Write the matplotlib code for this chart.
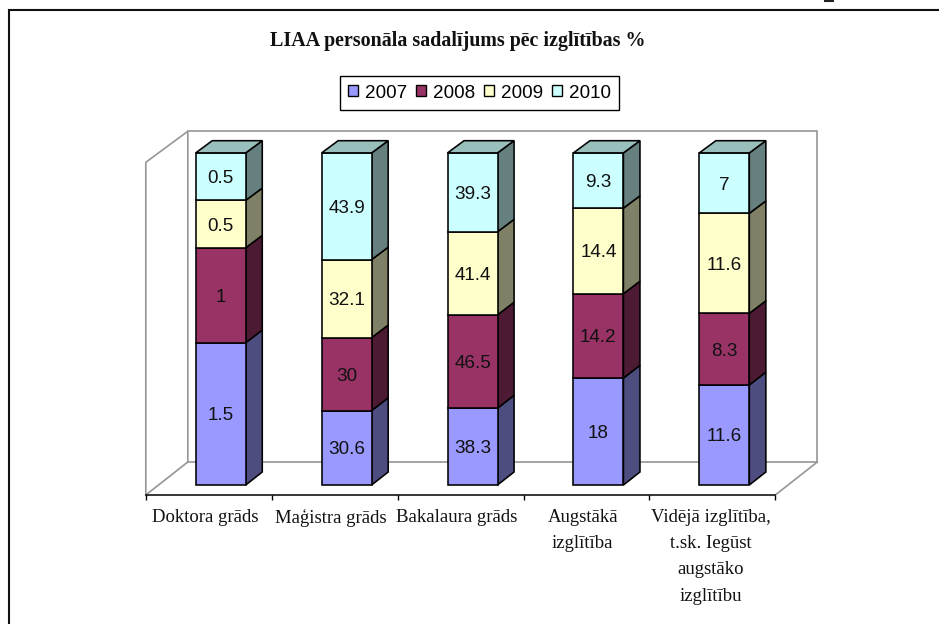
import numpy as np
import matplotlib
matplotlib.use('Agg')
import matplotlib.pyplot as plt
from matplotlib.patches import Patch, Polygon

categories = ['Doktora grāds', 'Maģistra grāds', 'Bakalaura grāds',
              'Augstākā\nizglītība', 'Vidējā izglītība,\nt.sk. Iegūst\naugstāko\nizglītību']
years = ['2007', '2008', '2009', '2010']
v2007 = [1.5, 30.6, 38.3, 18, 11.6]
v2008 = [1, 30, 46.5, 14.2, 8.3]
v2009 = [0.5, 32.1, 41.4, 14.4, 11.6]
v2010 = [0.5, 43.9, 39.3, 9.3, 7]
title = 'LIAA personāla sadalījums pēc izglītības %'

front_colors = ['#9999FF', '#993366', '#FFFFCC', '#CCFFFF']
side_colors = ['#4D4D80', '#4D1A33', '#808066', '#668080']
top_color = '#99BFBC'
wall_color = '#969696'

W, H = 939, 624
DEPTH_X = 42 / 629.5 * 5    # whole floor depth in x data units
DEPTH_Y = 33 / 332.7 * 100  # and in y data units
BAR_W = 50 / 125.9
BAR_SHIFT = -0.006
BAR_D0, BAR_D1 = 10 / 33, 23 / 33


def proj(x, y, d):
    # the back of the box is drawn a little shorter than the front
    return (x + d * DEPTH_X, y * (1 - 0.006 * d) + d * DEPTH_Y)


fig = plt.figure(figsize=(W / 100, H / 100), dpi=100)
ax = fig.add_axes([145.8 / W, 1 - 495 / H, 629.5 / W, 332.7 / H])
ax.set_xlim(0, 5)
ax.set_ylim(0, 100)
ax.patch.set_alpha(0)
for s in ['top', 'left', 'right']:
    ax.spines[s].set_visible(False)
ax.spines['bottom'].set_linewidth(1.1)
ax.set_yticks([])

# walls
wall_kw = dict(color=wall_color, lw=1.2, clip_on=False, zorder=1, solid_joinstyle='miter')
side_wall = [proj(0, 0, 0), proj(0, 100, 0), proj(0, 100, 1), proj(0, 0, 1), proj(0, 0, 0)]
back_wall = [proj(0, 100, 1), proj(5, 100, 1), proj(5, 0, 1), proj(0, 0, 1)]
floor_edge = [proj(5, 0, 1), proj(5, 0, 0)]
for pts in [side_wall, back_wall, floor_edge]:
    ax.plot(*zip(*pts), **wall_kw)

# stacked 100% columns
series = np.array([v2007, v2008, v2009, v2010], dtype=float)
totals = series.sum(axis=0)
edge_kw = dict(edgecolor='black', lw=1.15, clip_on=False, joinstyle='miter', zorder=3)
for c in range(len(categories)):
    x0 = c + 0.5 + BAR_SHIFT - BAR_W / 2
    x1 = c + 0.5 + BAR_SHIFT + BAR_W / 2
    bottom = 0
    for s in range(len(years)):
        h = series[s, c] / totals[c] * 100
        top = bottom + h
        side = [proj(x1, bottom, BAR_D0), proj(x1, bottom, BAR_D1),
                proj(x1, top, BAR_D1), proj(x1, top, BAR_D0)]
        front = [proj(x0, bottom, BAR_D0), proj(x1, bottom, BAR_D0),
                 proj(x1, top, BAR_D0), proj(x0, top, BAR_D0)]
        ax.add_patch(Polygon(side, facecolor=side_colors[s], **edge_kw))
        ax.add_patch(Polygon(front, facecolor=front_colors[s], **edge_kw))
        fx, fy = proj(c + 0.5 + BAR_SHIFT, bottom + h / 2, BAR_D0)
        val = series[s, c]
        ax.text(fx, fy, f'{val:g}', ha='center', va='center_baseline', fontsize=13.6,
                family='Liberation Sans', color='#111111', zorder=4)
        bottom = top
    cap = [proj(x0, 100, BAR_D0), proj(x1, 100, BAR_D0),
           proj(x1, 100, BAR_D1), proj(x0, 100, BAR_D1)]
    ax.add_patch(Polygon(cap, facecolor=top_color, **edge_kw))

# category axis
ax.set_xticks(np.arange(6), [''] * 6)
ax.tick_params(axis='x', which='major', length=3.5, width=1.0)
ax.set_xticks(np.arange(5) + 0.5 - np.array([0.03, 0.03, 0.03, 0.03, 0.012]), categories, minor=True)
ax.tick_params(axis='x', which='minor', length=0, pad=10)
for lab in ax.get_xticklabels(minor=True):
    lab.set_family('Liberation Serif')
    lab.set_fontsize(13.5)
    lab.set_linespacing(1.71)
    lab.set_color('#111111')

handles = [Patch(facecolor=c, edgecolor='black', lw=1.0) for c in front_colors]
leg = ax.legend(handles, years, ncol=4, loc='center',
                bbox_to_anchor=(479.5 / W, 1 - 93 / H), bbox_transform=fig.transFigure,
                fancybox=False, framealpha=1, edgecolor='black',
                prop={'family': 'Liberation Sans', 'size': 13.6},
                handlelength=0.53, handleheight=0.53, handletextpad=0.37,
                columnspacing=0.46, borderpad=0.45, borderaxespad=0)
leg.get_frame().set_linewidth(1.0)

fig.text(457.5 / W, 1 - 41 / H, title, ha='center', va='center', fontsize=14.4,
         family='Liberation Serif', fontweight='bold', color='#111111')

# outer chart frame, cut off on the right and bottom
fig.add_artist(plt.Line2D([8.5 / W, 8.5 / W, 1], [0, 1 - 9.5 / H, 1 - 9.5 / H],
                          color='#111111', lw=1.5, solid_joinstyle='miter'))
# tail of a letter from the page above
fig.add_artist(plt.Line2D([825 / W, 833 / W], [1 - 1 / H, 1 - 1 / H],
                          color='#222222', lw=1.5))

fig.savefig('out.png', dpi=100)
